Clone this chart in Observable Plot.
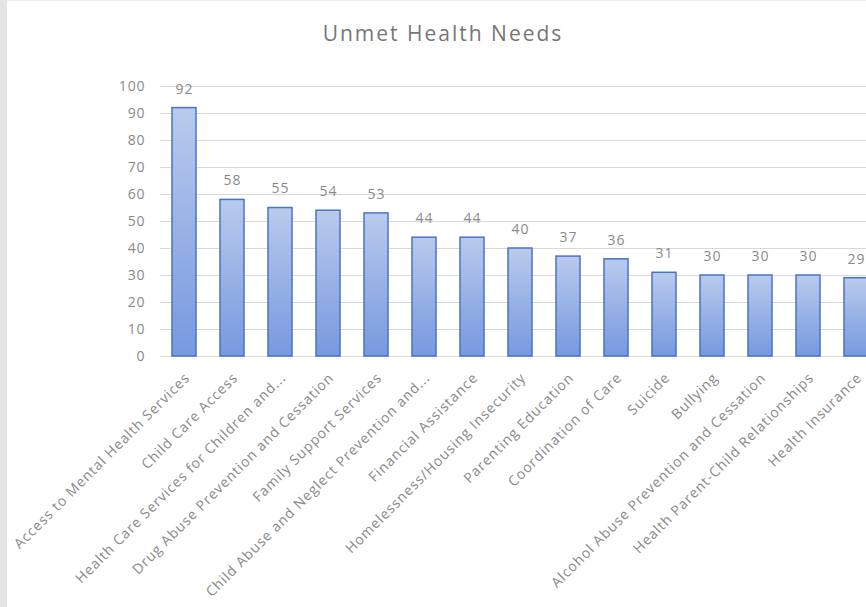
<!DOCTYPE html>
<html>
<head>
<meta charset="utf-8">
<script src="https://cdn.jsdelivr.net/npm/d3@7"></script>
<script src="https://cdn.jsdelivr.net/npm/@observablehq/plot@0.6"></script>
<style>
  html, body { margin: 0; padding: 0; background: #ffffff; overflow: hidden; }
  #wrap { position: relative; width: 866px; height: 607px; overflow: hidden; background: #fff; }
  #strip { position: absolute; left: 0; top: 0; width: 7px; height: 607px; background: #e4e4e4; }
  #topline { position: absolute; left: 7px; top: 0; width: 859px; height: 1px; background: #ececec; }
  #title { position: absolute; left: 0; width: 886px; top: 19px; text-align: center;
           font-family: "Open Sans", sans-serif; font-size: 21px; letter-spacing: 2px; color: #767676; }
  #chart svg { overflow: hidden; }
  #chart svg text { letter-spacing: 0.9px; }
</style>
</head>
<body>
<div id="wrap">
  <div id="chart"></div>
  <div id="strip"></div>
  <div id="topline"></div>
  <div id="title">Unmet Health Needs</div>
</div>
<script>
const categories = [
  "Access to Mental Health Services",
  "Child Care Access",
  "Health Care Services for Children and...",
  "Drug Abuse Prevention and Cessation",
  "Family Support Services",
  "Child Abuse and Neglect Prevention and...",
  "Financial Assistance",
  "Homelessness/Housing Insecurity",
  "Parenting Education",
  "Coordination of Care",
  "Suicide",
  "Bullying",
  "Alcohol Abuse Prevention and Cessation",
  "Health Parent-Child Relationships",
  "Health Insurance"
];
const values = [92, 58, 55, 54, 53, 44, 44, 40, 37, 36, 31, 30, 30, 30, 29];
const yTicks = [0, 10, 20, 30, 40, 50, 60, 70, 80, 90, 100];

const data = categories.map((c, i) => ({category: c, value: values[i]}));

const gray = "#8a8a8a";
const font = "\"Open Sans\", sans-serif";

const defs = () => {
  const d = d3.create("svg:defs");
  const g = d.append("linearGradient").attr("id", "barGrad")
    .attr("x1", 0).attr("y1", 0).attr("x2", 0).attr("y2", 1);
  g.append("stop").attr("offset", "0%").attr("stop-color", "#b9caec");
  g.append("stop").attr("offset", "100%").attr("stop-color", "#7799df");
  return d.node();
};

const chart = Plot.plot({
  width: 866,
  height: 607,
  marginTop: 86,
  marginBottom: 251,
  marginLeft: 160,
  marginRight: 0,
  style: {fontFamily: font, background: "transparent"},
  x: {domain: categories, range: [160, 881], paddingInner: 0.49, paddingOuter: 0.25, axis: null},
  y: {domain: [0, 100], axis: null},
  marks: [
    defs,
    Plot.gridY(yTicks, {stroke: "#d9d9d9", strokeOpacity: 1, strokeWidth: 1}),
    Plot.axisY(yTicks, {label: null, tickSize: 0, tickPadding: 15, fontSize: 14, fill: gray, tickFormat: d => String(d), textAnchor: "end", fontFamily: font}),
    Plot.barY(data, {x: "category", y: "value", fill: "url(#barGrad)", stroke: "#4a73c6", strokeWidth: 1.5}),
    Plot.text(data, {x: "category", y: "value", text: d => String(d.value), dy: -19, fontSize: 14, fill: gray, fontFamily: font}),
    Plot.text(data, {x: "category", text: "category", frameAnchor: "bottom", y: 0, rotate: -45, textAnchor: "end", dx: 3, dy: 19, fontSize: 14, fill: gray, fontFamily: font, lineAnchor: "middle"})
  ]
});
document.getElementById("chart").append(chart);
</script>
</body>
</html>
